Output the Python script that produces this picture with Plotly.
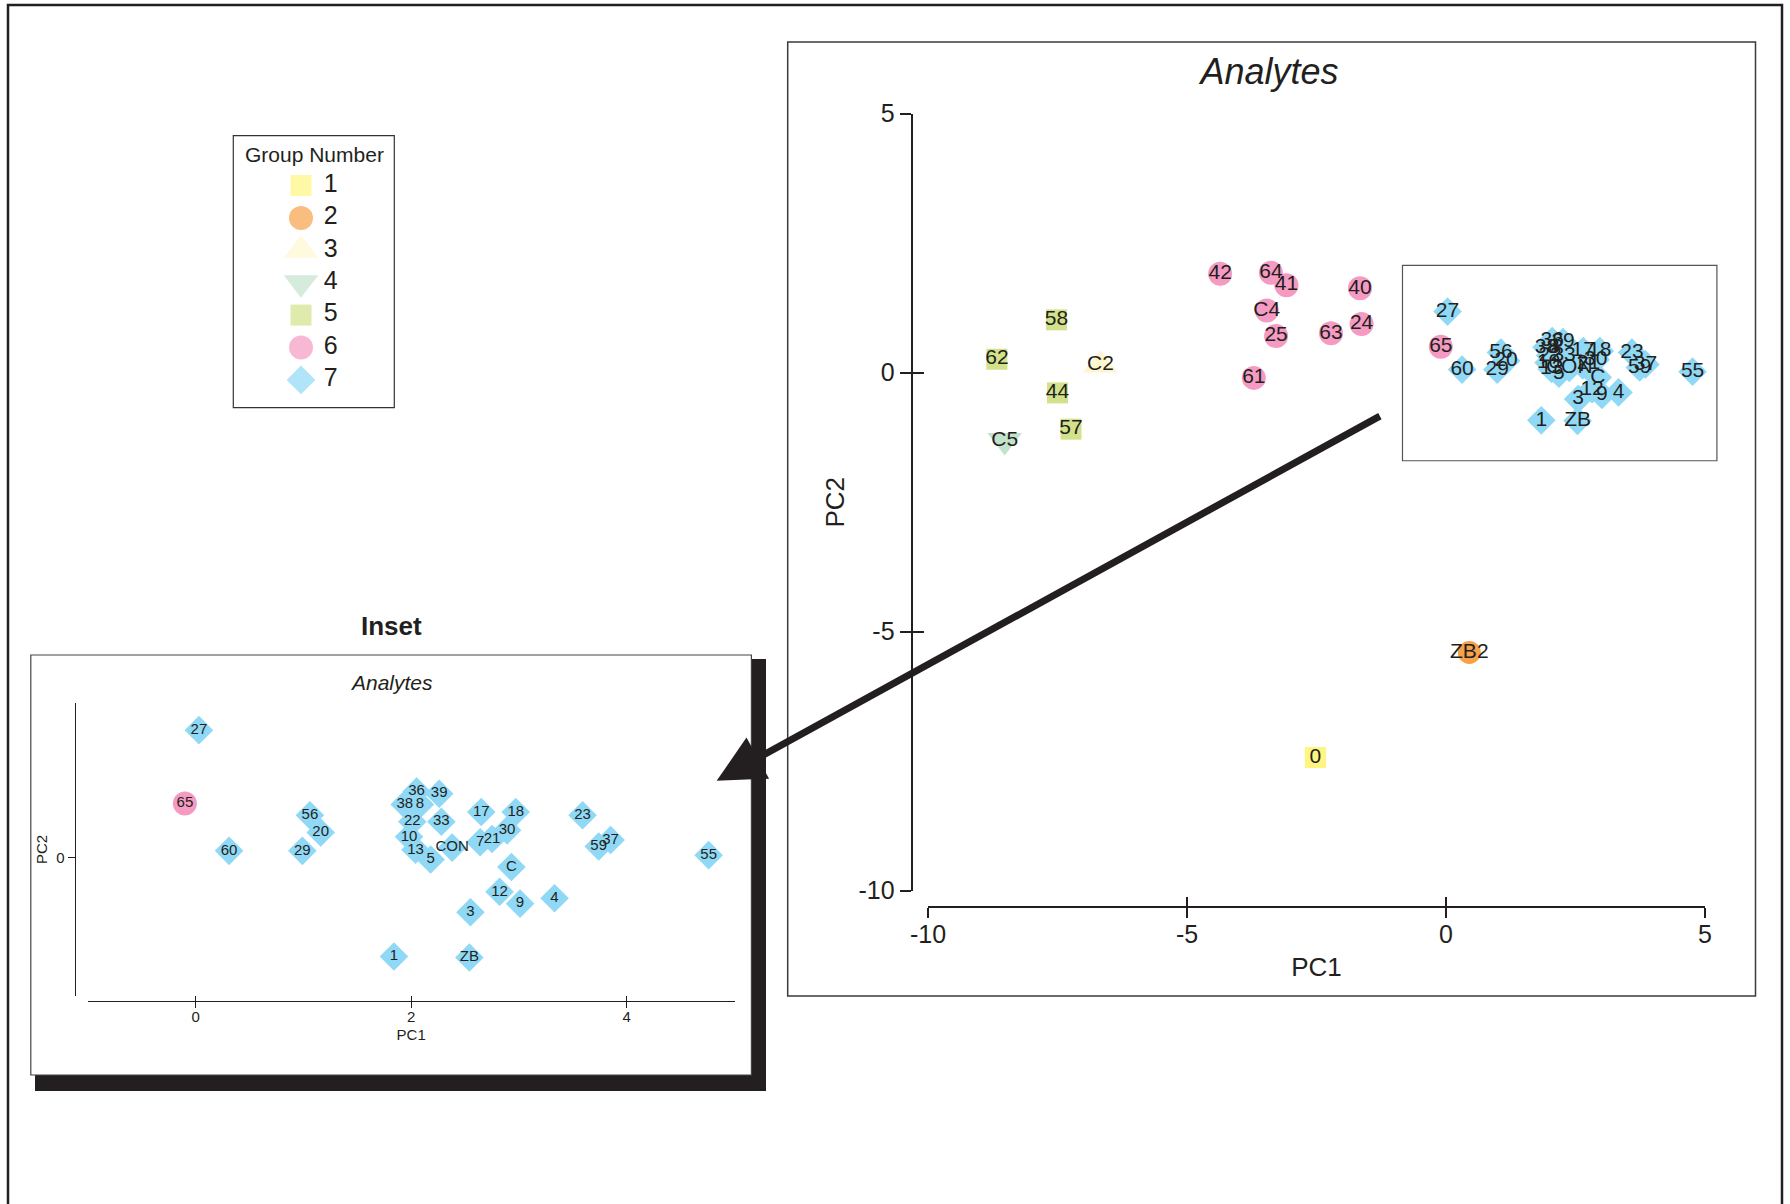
import plotly.graph_objects as go

# ---------------- data: PCA scores (PC1, PC2) per analyte, by group ----------------
GROUP_NAMES = ["1", "2", "3", "4", "5", "6", "7"]

G1_LABELS = ["0"]
G1_PC1 = [-2.52]
G1_PC2 = [-7.43]

G2_LABELS = ["ZB2"]
G2_PC1 = [0.45]
G2_PC2 = [-5.40]

G3_LABELS = ["C2"]
G3_PC1 = [-6.67]
G3_PC2 = [0.15]

G4_LABELS = ["C5"]
G4_PC1 = [-8.52]
G4_PC2 = [-1.31]

G5_LABELS = ["58", "62", "44", "57"]
G5_PC1 = [-7.52, -8.67, -7.50, -7.24]
G5_PC2 = [1.02, 0.26, -0.39, -1.09]

G6_LABELS = ["42", "64", "41", "40", "C4", "24", "25", "63", "61", "65"]
G6_PC1 = [-4.36, -3.38, -3.08, -1.66, -3.46, -1.63, -3.28, -2.22, -3.71, -0.10]
G6_PC2 = [1.91, 1.93, 1.69, 1.63, 1.20, 0.94, 0.71, 0.76, -0.10, 0.50]

G7_LABELS = ["27", "60", "56", "20", "29", "36", "39", "38", "8", "22",
             "33", "10", "13", "5", "CON", "17", "18", "30", "21", "7",
             "C", "12", "9", "4", "3", "23", "59", "37", "55", "1", "ZB"]
G7_PC1 = [0.03, 0.31, 1.06, 1.16, 0.99, 2.05, 2.26, 1.94, 2.08, 2.01,
          2.28, 1.98, 2.04, 2.18, 2.38, 2.65, 2.97, 2.89, 2.75, 2.64,
          2.93, 2.82, 3.01, 3.33, 2.55, 3.59, 3.74, 3.85, 4.76, 1.84, 2.54]
G7_PC2 = [1.18, 0.06, 0.39, 0.23, 0.06, 0.61, 0.59, 0.49, 0.49, 0.33,
          0.33, 0.19, 0.07, -0.02, 0.09, 0.42, 0.42, 0.25, 0.17, 0.14,
          -0.09, -0.32, -0.43, -0.38, -0.51, 0.39, 0.10, 0.16, 0.02, -0.92, -0.93]

# zoom window marked on the main plot and enlarged in the inset
INSET_PC1 = [-0.84, 5.23]
INSET_PC2 = [-1.70, 2.07]

MAIN_RANGE = [-10, 5]
MAIN_TICKS = [-10, -5, 0, 5]
MAIN_TICK_TEXT = ["-10", "-5", "0", "5"]
INSET_X_RANGE = [-1, 5]
INSET_Y_RANGE = [-1.284, 1.429]
INSET_X_TICKS = [0, 2, 4]
INSET_X_TICK_TEXT = ["0", "2", "4"]
INSET_Y_TICKS = [0]
INSET_Y_TICK_TEXT = ["0"]

GROUPS = [
    (G1_LABELS, G1_PC1, G1_PC2),
    (G2_LABELS, G2_PC1, G2_PC2),
    (G3_LABELS, G3_PC1, G3_PC2),
    (G4_LABELS, G4_PC1, G4_PC2),
    (G5_LABELS, G5_PC1, G5_PC2),
    (G6_LABELS, G6_PC1, G6_PC2),
    (G7_LABELS, G7_PC1, G7_PC2),
]

# ---------------- styling ----------------
SYMBOLS = ["square", "circle", "triangle-up", "triangle-down", "square", "circle", "diamond"]
COLORS = ["#fff57f", "#f7a148", "#fff6cf", "#c3e2cc", "#d2e28a", "#f59ac2", "#8fd9f6"]
SIZES = [21, 23, 30, 30, 21, 24, 22]
LEGEND_SIZES = [21, 24, 30, 30, 21, 24, 22]

INK = "#231f20"
FONT = "Liberation Sans, Arial, Helvetica, sans-serif"

W, H = 1790, 1204


def fx(px):
    return px / W


def fy(py):
    return 1 - py / H


# subplot placement (pixels)
MAIN_X_DOM = [fx(928), fx(1705)]
MAIN_Y_DOM = [fy(890.7), fy(113.7)]
INSET_X_DOM = [fx(87.9), fx(734.5)]
INSET_Y_DOM = [fy(995.7), fy(703.3)]


def to_paper(v, rng, dom):
    """Linear axis mapping from data value to paper fraction."""
    return dom[0] + (v - rng[0]) / (rng[1] - rng[0]) * (dom[1] - dom[0])


fig = go.Figure()

# ---------------- main scatter ----------------
for gi, (labels, pc1, pc2) in enumerate(GROUPS):
    fig.add_trace(go.Scatter(
        x=pc1, y=pc2, text=labels, mode="markers+text",
        textposition="middle center",
        textfont=dict(family=FONT, size=21, color=INK),
        marker=dict(symbol=SYMBOLS[gi], size=SIZES[gi], color=COLORS[gi],
                    line=dict(width=0)),
        xaxis="x", yaxis="y", cliponaxis=False, showlegend=False,
        name=GROUP_NAMES[gi],
    ))

# ---------------- inset: points inside the zoom window ----------------
for gi, (labels, pc1, pc2) in enumerate(GROUPS):
    keep = [i for i in range(len(labels))
            if INSET_PC1[0] <= pc1[i] <= INSET_PC1[1]
            and INSET_PC2[0] <= pc2[i] <= INSET_PC2[1]]
    if not keep:
        continue
    fig.add_trace(go.Scatter(
        x=[pc1[i] for i in keep], y=[pc2[i] for i in keep],
        text=[labels[i] for i in keep], mode="markers+text",
        textposition="middle center",
        textfont=dict(family=FONT, size=15, color=INK),
        marker=dict(symbol=SYMBOLS[gi], size=SIZES[gi], color=COLORS[gi],
                    line=dict(width=0)),
        xaxis="x2", yaxis="y2", cliponaxis=False, showlegend=False,
        name=GROUP_NAMES[gi],
    ))

# ---------------- group key ----------------
rows = list(range(len(GROUP_NAMES)))
row_y = [49.8 + 32.4 * r for r in rows]
fig.add_trace(go.Scatter(
    x=[67.7] * len(rows), y=row_y, mode="markers",
    marker=dict(symbol=SYMBOLS, size=LEGEND_SIZES, color=COLORS, line=dict(width=0)),
    xaxis="x3", yaxis="y3", showlegend=False, hoverinfo="skip", cliponaxis=False,
))
fig.add_trace(go.Scatter(
    x=[90.5] * len(rows), y=row_y, mode="text", text=GROUP_NAMES,
    textposition="middle right",
    textfont=dict(family=FONT, size=25, color=INK),
    xaxis="x3", yaxis="y3", showlegend=False, hoverinfo="skip", cliponaxis=False,
))

# empty traces that register the overlay axes carrying the inner tick halves
for xa, ya in (("x4", "y"), ("x", "y4"), ("x5", "y2")):
    fig.add_trace(go.Scatter(x=[None], y=[None], xaxis=xa, yaxis=ya,
                             showlegend=False, hoverinfo="skip"))

# ---------------- axes ----------------
main_x_pos = fy(906.7)
main_y_pos = fx(911.7)
inset_x_pos = fy(1001)
inset_y_pos = fx(75.2)

common = dict(showgrid=False, zeroline=False, color=INK)

fig.update_layout(
    xaxis=dict(domain=MAIN_X_DOM, range=MAIN_RANGE, anchor="free", position=main_x_pos,
               showline=True, linewidth=2.2, linecolor=INK,
               ticks="outside", ticklen=10, tickwidth=2.2, tickcolor=INK,
               tickvals=MAIN_TICKS, ticktext=MAIN_TICK_TEXT, ticklabelstandoff=-5,
               tickfont=dict(family=FONT, size=25, color=INK),
               title=dict(text="PC1", font=dict(family=FONT, size=26, color=INK), standoff=10),
               **common),
    xaxis4=dict(overlaying="x", range=MAIN_RANGE, anchor="free", position=main_x_pos,
                showline=False, ticks="inside", ticklen=10, tickwidth=2.2, tickcolor=INK,
                tickvals=MAIN_TICKS, showticklabels=False, **common),
    yaxis=dict(domain=MAIN_Y_DOM, range=MAIN_RANGE, anchor="free", position=main_y_pos,
               showline=True, linewidth=2.2, linecolor=INK,
               ticks="outside", ticklen=11, tickwidth=2.2, tickcolor=INK,
               tickvals=MAIN_TICKS, ticktext=MAIN_TICK_TEXT,
               tickfont=dict(family=FONT, size=25, color=INK),
               title=dict(text="PC2", font=dict(family=FONT, size=26, color=INK), standoff=5),
               **common),
    yaxis4=dict(overlaying="y", range=MAIN_RANGE, anchor="free", position=main_y_pos,
                showline=False, ticks="inside", ticklen=11, tickwidth=2.2, tickcolor=INK,
                tickvals=MAIN_TICKS, showticklabels=False, **common),
    xaxis2=dict(domain=INSET_X_DOM, range=INSET_X_RANGE, anchor="free", position=inset_x_pos,
                showline=True, linewidth=1.2, linecolor=INK,
                ticks="outside", ticklen=5.5, tickwidth=1.2, tickcolor=INK,
                tickvals=INSET_X_TICKS, ticktext=INSET_X_TICK_TEXT, ticklabelstandoff=-4,
                tickfont=dict(family=FONT, size=15, color=INK),
                title=dict(text="PC1", font=dict(family=FONT, size=15, color=INK), standoff=5),
                **common),
    xaxis5=dict(overlaying="x2", range=INSET_X_RANGE, anchor="free", position=inset_x_pos,
                showline=False, ticks="inside", ticklen=5.5, tickwidth=1.2, tickcolor=INK,
                tickvals=INSET_X_TICKS, showticklabels=False, **common),
    yaxis2=dict(domain=INSET_Y_DOM, range=INSET_Y_RANGE, anchor="free", position=inset_y_pos,
                showline=True, linewidth=1.2, linecolor=INK,
                ticks="outside", ticklen=7.5, tickwidth=1.2, tickcolor=INK,
                tickvals=INSET_Y_TICKS, ticktext=INSET_Y_TICK_TEXT,
                tickfont=dict(family=FONT, size=15, color=INK),
                title=dict(text="PC2", font=dict(family=FONT, size=15, color=INK), standoff=4),
                **common),
    xaxis3=dict(domain=[fx(233.3), fx(394.3)], range=[0, 161], visible=False, fixedrange=True),
    yaxis3=dict(domain=[fy(407.7), fy(135.7)], range=[272, 0], visible=False, fixedrange=True),
)

# zoom window corners on the main plot, through the main axis mapping
win_x0 = to_paper(INSET_PC1[0], MAIN_RANGE, MAIN_X_DOM)
win_x1 = to_paper(INSET_PC1[1], MAIN_RANGE, MAIN_X_DOM)
win_y0 = to_paper(INSET_PC2[0], MAIN_RANGE, MAIN_Y_DOM)
win_y1 = to_paper(INSET_PC2[1], MAIN_RANGE, MAIN_Y_DOM)

# page border: open at the bottom, kept inside the page
bx0, bx1, by_top, by_bot = fx(8), fx(1782), fy(5), 0.0
border_path = f"M {bx0},{by_bot} L {bx0},{by_top} L {bx1},{by_top} L {bx1},{by_bot}"

shapes = [
    dict(type="path", xref="paper", yref="paper", path=border_path,
         line=dict(color=INK, width=2.5), layer="below"),
    # main chart frame
    dict(type="rect", xref="paper", yref="paper", x0=fx(787.7), x1=fx(1755.5), y0=fy(996), y1=fy(42),
         line=dict(color="#3a3a3a", width=1.5), fillcolor="rgba(0,0,0,0)", layer="below"),
    # inset drop shadow
    dict(type="rect", xref="paper", yref="paper", x0=fx(35), x1=fx(766), y0=fy(1091), y1=fy(659),
         line=dict(width=0), fillcolor=INK, layer="below"),
    # inset panel
    dict(type="rect", xref="paper", yref="paper", x0=fx(30.8), x1=fx(751.4), y0=fy(1075), y1=fy(655),
         line=dict(color="#444444", width=1.2), fillcolor="white", layer="below"),
    # group key box
    dict(type="rect", xref="paper", yref="paper", x0=fx(233.3), x1=fx(394.3), y0=fy(407.7), y1=fy(135.7),
         line=dict(color="#333333", width=1.2), fillcolor="rgba(0,0,0,0)", layer="below"),
    # zoom window on the main plot
    dict(type="rect", xref="paper", yref="paper", x0=win_x0, x1=win_x1, y0=win_y0, y1=win_y1,
         line=dict(color="#555555", width=1.2), fillcolor="rgba(0,0,0,0)", layer="below"),
]

annotations = [
    dict(text="<b>Inset</b>", x=fx(391.6), y=fy(625.6), xref="paper", yref="paper",
         xanchor="center", yanchor="middle", showarrow=False,
         font=dict(family=FONT, size=26, color=INK)),
    dict(text="<i>Analytes</i>", x=fx(391.4), y=fy(682.3), xref="paper", yref="paper",
         xanchor="center", yanchor="middle", showarrow=False,
         font=dict(family=FONT, size=21, color=INK)),
    dict(text="Group Number", x=fx(314), y=fy(154), xref="paper", yref="paper",
         xanchor="center", yanchor="middle", showarrow=False,
         font=dict(family=FONT, size=21, color=INK)),
    # pointer from the zoom window to the inset
    dict(text="", x=fx(716.7), y=fy(780.7), xref="paper", yref="paper",
         ax=664.7, ay=-365.4, showarrow=True, arrowhead=2, arrowwidth=7,
         arrowsize=1.34, arrowcolor=INK, standoff=0),
]

fig.update_layout(
    width=W, height=H, autosize=False,
    margin=dict(l=0, r=0, t=0, b=0, pad=0, autoexpand=False),
    paper_bgcolor="white", plot_bgcolor="rgba(0,0,0,0)",
    showlegend=False,
    font=dict(family=FONT, color=INK),
    title=dict(text="<i>Analytes</i>", x=fx(1269.5), y=fy(71.5),
               xanchor="center", yanchor="middle",
               font=dict(family=FONT, size=36, color=INK)),
    shapes=shapes,
    annotations=annotations,
)

fig.write_html("out.html")
